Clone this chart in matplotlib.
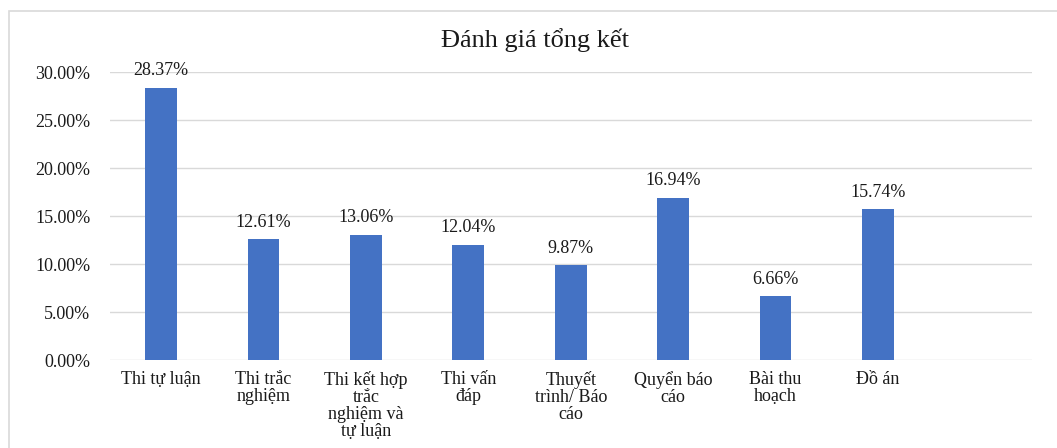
import numpy as np
import matplotlib.pyplot as plt
from matplotlib.patches import Rectangle
from matplotlib.ticker import FuncFormatter

# Data (percent)
categories = ['Thi tự luận', 'Thi trắc\nnghiệm', 'Thi kết hợp\ntrắc\nnghiệm và\ntự luận',
              'Thi vấn\nđáp', 'Thuyết\ntrình/ Báo\ncáo', 'Quyển báo\ncáo',
              'Bài thu\nhoạch', 'Đồ án', '']
values = [28.37, 12.61, 13.06, 12.04, 9.87, 16.94, 6.66, 15.74, np.nan]
yticks = [0, 5, 10, 15, 20, 25, 30]

plt.rcParams['font.family'] = ['Liberation Serif', 'DejaVu Serif']
text_color = '#1a1a1a'

fig = plt.figure(figsize=(10.57, 4.48), dpi=100)
ax = fig.add_axes([0.104, 0.196, 0.872, 0.643])

# light frame around the chart area
fig.patches.append(Rectangle((9 / 1057, -0.05), 1.1, 1 - 11 / 448 + 0.05,
                             transform=fig.transFigure, fill=False,
                             edgecolor='#d9d9d9', linewidth=1.2))

x = np.arange(len(categories))
bars = ax.bar(x, values, width=0.31, color='#4472c4', zorder=3)

for xi, v in zip(x, values):
    if np.isnan(v):
        continue
    ax.annotate(f'{v:.2f}%', (xi, v), xytext=(0, 6), textcoords='offset points',
                ha='center', va='bottom', fontsize=13, color=text_color)

ax.set_xlim(-0.5, len(categories) - 0.5)
ax.set_ylim(0, 30)
ax.set_yticks(yticks)
ax.yaxis.set_major_formatter(FuncFormatter(lambda v, p: f'{v:.2f}%'))
ax.set_xticks(x)
ax.set_xticklabels(categories, fontsize=13, color=text_color, linespacing=1.0)
ax.tick_params(axis='y', labelsize=13, labelcolor=text_color, length=0, pad=14)
ax.tick_params(axis='x', length=0, pad=8)
ax.grid(axis='y', color='#d9d9d9', linewidth=1.0, zorder=0)
for s in ax.spines.values():
    s.set_visible(False)

fig.text(0.506, 0.91, 'Đánh giá tổng kết', ha='center', va='center',
         fontsize=19, color=text_color)

plt.savefig('out.png', dpi=100)
